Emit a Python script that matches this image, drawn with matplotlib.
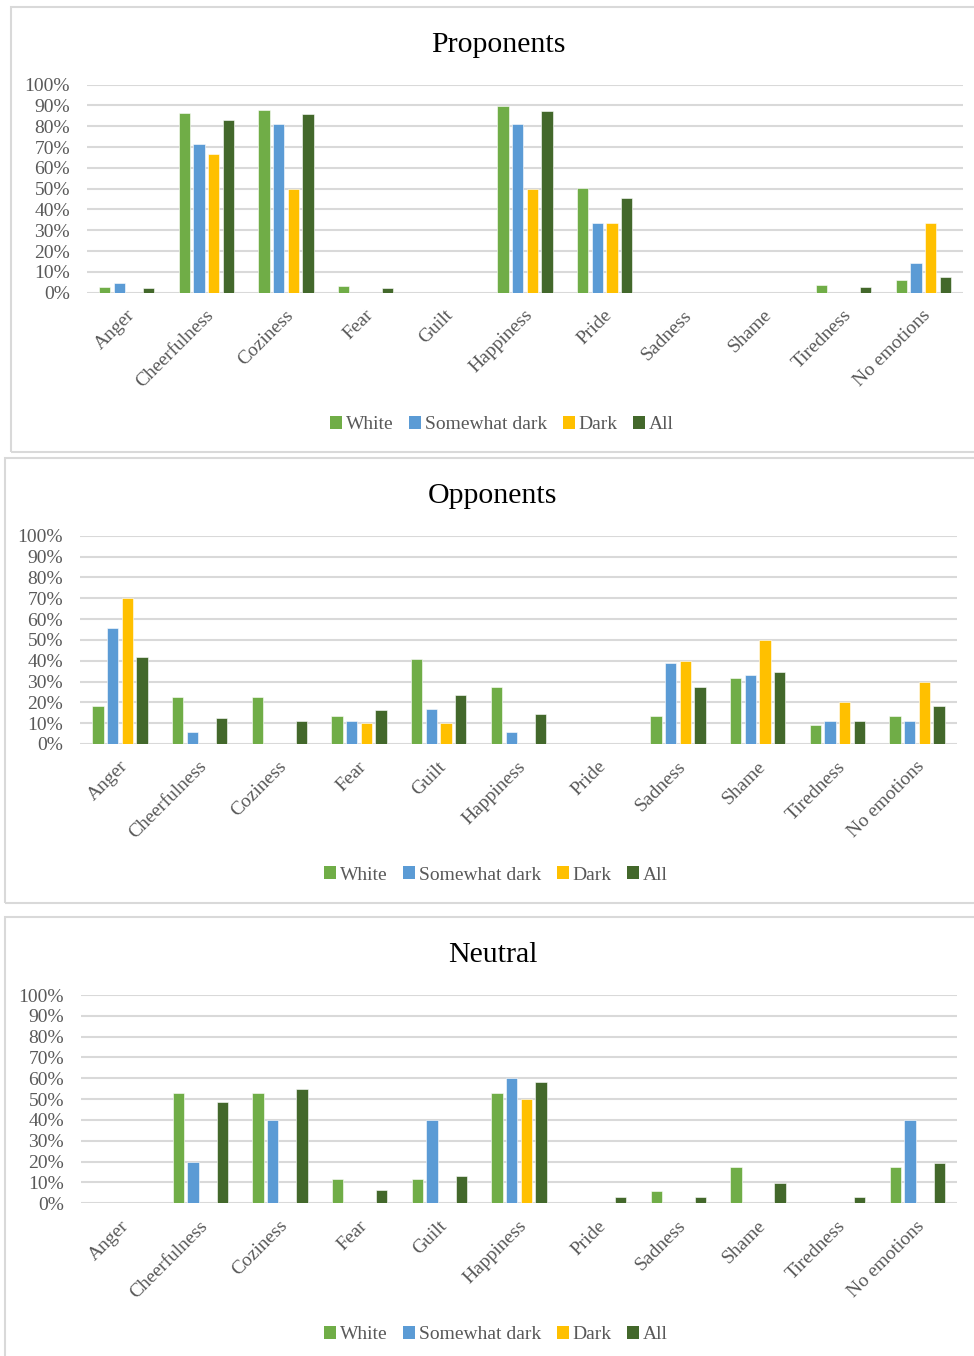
import matplotlib
matplotlib.use("Agg")
import matplotlib.pyplot as plt
from matplotlib.patches import Rectangle, Patch
from matplotlib.ticker import FuncFormatter
import numpy as np

categories = ["Anger", "Cheerfulness", "Coziness", "Fear", "Guilt", "Happiness",
              "Pride", "Sadness", "Shame", "Tiredness", "No emotions"]
series_names = ["White", "Somewhat dark", "Dark", "All"]
colors = ["#70AD47", "#5B9BD5", "#FFC000", "#43682B"]

# Proponents (%)
prop_white = [2.6, 86.4, 87.8, 3.2, 0, 89.9, 50.2, 0, 0, 3.8, 5.9]
prop_sdark = [4.6, 71.3, 80.9, 0, 0, 81.0, 33.3, 0, 0, 0, 14.3]
prop_dark = [0, 66.7, 50.0, 0, 0, 50.0, 33.3, 0, 0, 0, 33.3]
prop_all = [2.2, 83.0, 85.9, 2.2, 0, 87.3, 45.5, 0, 0, 2.7, 7.4]

# Opponents (%)
opp_white = [18.2, 22.7, 22.7, 13.6, 40.9, 27.3, 0, 13.6, 31.8, 9.1, 13.6]
opp_sdark = [55.6, 5.6, 0, 11.1, 16.7, 5.6, 0, 38.9, 33.3, 11.1, 11.1]
opp_dark = [70.0, 0, 0, 10.0, 10.0, 0, 0, 40.0, 50.0, 20.0, 30.0]
opp_all = [41.8, 12.7, 10.9, 16.4, 23.6, 14.5, 0, 27.3, 34.5, 10.9, 18.2]

# Neutral (%)
neu_white = [0, 52.9, 52.9, 11.8, 11.8, 52.9, 0, 5.9, 17.6, 0, 17.6]
neu_sdark = [0, 20.0, 40.0, 0, 40.0, 60.0, 0, 0, 0, 0, 40.0]
neu_dark = [0, 0, 0, 0, 0, 50.0, 0, 0, 0, 0, 0]
neu_all = [0, 48.4, 54.8, 6.5, 12.9, 58.1, 3.2, 3.2, 9.7, 3.2, 19.4]

titles = ["Proponents", "Opponents", "Neutral"]
panels = [
    [prop_white, prop_sdark, prop_dark, prop_all],
    [opp_white, opp_sdark, opp_dark, opp_all],
    [neu_white, neu_sdark, neu_dark, neu_all],
]

W, H = 974, 1356
DPI = 100
fig = plt.figure(figsize=(W / DPI, H / DPI), dpi=DPI)
SERIF = ["Liberation Serif", "DejaVu Serif"]
GRAY = "#595959"
GRID = "#D9D9D9"

# layout in pixels (top-down coordinates)
layout = [
    (87, 963, 84.7, 292.7, 498, 45, 502, 424.5, (10.5, 6.7, 1100, 445.5)),
    (80, 957, 535.7, 744.0, 492, 496, 496, 875.0, (5, 458, 1100, 445)),
    (81, 957, 995.0, 1203.3, 493, 955, 496, 1334.5, (5, 917, 1100, 500)),
]

def fx(px):
    return px / W

def fy(py):
    return 1 - py / H

for p, (data, title, lay) in enumerate(zip(panels, titles, layout)):
    pl, pr, y100, y0, tx, ty, lcx, lcy, box = lay
    bx, by, bw, bh = box
    fig.patches.append(Rectangle((fx(bx), fy(by + bh)), bw / W, bh / H,
                                 transform=fig.transFigure, fill=False,
                                 edgecolor=GRID, linewidth=1.5, zorder=0))
    ax = fig.add_axes([fx(pl), fy(y0), (pr - pl) / W, (y0 - y100) / H])
    x = np.arange(len(categories))
    pitch = 0.184
    bw_ = 0.142
    for i, (vals, c) in enumerate(zip(data, colors)):
        ax.bar(x + (i - 1.5) * pitch, np.array(vals) / 100.0, width=bw_, color=c,
               edgecolor="white", linewidth=0.4, zorder=3)
    ax.set_xlim(-0.5, len(categories) - 0.5)
    ax.set_ylim(0, 1.0)
    ax.set_yticks(np.arange(0, 1.01, 0.1))
    ax.yaxis.set_major_formatter(FuncFormatter(lambda v, _: f"{int(round(v * 100))}%"))
    ax.grid(axis="y", color=GRID, linewidth=1.5, zorder=0)
    ax.set_axisbelow(True)
    for s in ax.spines.values():
        s.set_visible(False)
    ax.tick_params(axis="y", length=0, pad=12.2, labelsize=14, labelcolor=GRAY)
    for lab in ax.get_yticklabels():
        lab.set_fontfamily(SERIF)
    ax.set_xticks([])
    # rotated category labels
    for xi, cat in enumerate(categories):
        ax.annotate(cat, xy=(xi, 0), xycoords="data", xytext=(5, -20),
                    textcoords="offset pixels", rotation=45, rotation_mode="anchor",
                    ha="right", va="center", fontsize=14, color=GRAY,
                    family=SERIF, annotation_clip=False)
    fig.text(fx(tx), fy(ty), title, ha="center", va="center", fontsize=21.5,
             color="black", family=SERIF)
    handles = [Patch(facecolor=c, edgecolor="none") for c in colors]
    leg = fig.legend(handles, series_names, loc="center",
                     bbox_to_anchor=(fx(lcx), fy(lcy)), ncol=4, frameon=False,
                     handlelength=0.62, handleheight=0.62, handletextpad=0.2,
                     columnspacing=0.8, borderpad=0,
                     prop={"family": SERIF, "size": 14})
    for t in leg.get_texts():
        t.set_color(GRAY)

fig.savefig("out.png", dpi=DPI, facecolor="white")
